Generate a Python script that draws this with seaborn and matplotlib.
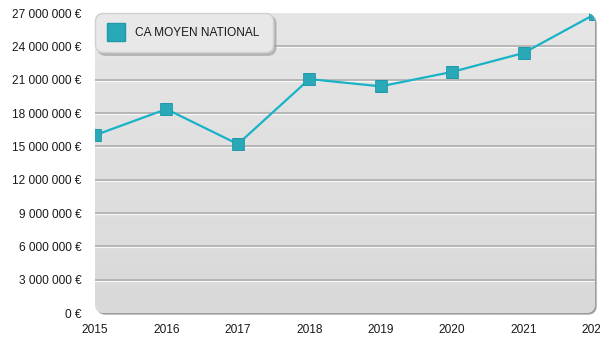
import numpy as np
import pandas as pd
import matplotlib
matplotlib.use("Agg")
import matplotlib.pyplot as plt
import matplotlib.transforms as mtransforms
from matplotlib.patches import FancyBboxPatch
from matplotlib.colors import LinearSegmentedColormap
from matplotlib.lines import Line2D
import seaborn as sns

# Average national turnover per year
years = [2015, 2016, 2017, 2018, 2019, 2020, 2021, 2022]
ca_moyen = [16_000_000, 18_350_000, 15_200_000, 21_050_000, 20_400_000,
            21_700_000, 23_400_000, 26_900_000]
series_name = "CA MOYEN NATIONAL"
y_ticks = [0, 3_000_000, 6_000_000, 9_000_000, 12_000_000, 15_000_000,
           18_000_000, 21_000_000, 24_000_000, 27_000_000]

df = pd.DataFrame({"annee": years, "ca": ca_moyen})

sns.set_theme(style="white")
plt.rcParams["font.family"] = ["Liberation Sans", "DejaVu Sans"]

fig = plt.figure(figsize=(6, 3.5), dpi=100)
ax = fig.add_axes([95 / 600, 37 / 350, 500 / 600, 300 / 350])
ax.set_facecolor("none")
for s in ax.spines.values():
    s.set_visible(False)

ax.set_xlim(years[0], years[-1])
ax.set_ylim(0, 27_000_000)

# rounded plot-area panel with a soft drop shadow
aspect = 500 / 300
shadow_off = mtransforms.ScaledTranslation(1.2 / 72, -1.2 / 72, fig.dpi_scale_trans)
shadow = FancyBboxPatch((0, 0), 1, 1, boxstyle="round,pad=0,rounding_size=0.018",
                        mutation_aspect=aspect, transform=ax.transAxes + shadow_off,
                        facecolor="#9e9e9e", edgecolor="none", zorder=0, clip_on=False)
ax.add_patch(shadow)
panel = FancyBboxPatch((0, 0), 1, 1, boxstyle="round,pad=0,rounding_size=0.018",
                       mutation_aspect=aspect, transform=ax.transAxes,
                       facecolor="#e0e0e0", edgecolor="none", zorder=0.5, clip_on=False)
ax.add_patch(panel)

grad_cmap = LinearSegmentedColormap.from_list("bg", ["#d9d9d9", "#e6e6e6"])
grad = np.linspace(0, 1, 256).reshape(-1, 1)
bg = ax.imshow(grad, extent=[years[0], years[-1], 0, 27_000_000], origin="lower",
               aspect="auto", cmap=grad_cmap, zorder=0.6, interpolation="bilinear")
bg.set_clip_path(panel)

# gridlines: grey rule with a white highlight underneath
white_off = mtransforms.ScaledTranslation(0, -1 / 72 * 0.75, fig.dpi_scale_trans)
for yv in y_ticks[1:-1]:
    ax.axhline(yv, color="#aaaaaa", lw=1.1, zorder=1)
    hl = ax.axhline(yv, color="#f8f8f8", lw=0.9, zorder=0.9)
    hl.set_transform(hl.get_transform() + white_off)

line_color = "#18b3c6"
sns.lineplot(data=df, x="annee", y="ca", ax=ax, color=line_color, lw=1.6,
             marker="s", markersize=8.6, markerfacecolor="#29a9b8",
             markeredgecolor="#2299a9", markeredgewidth=0.6, zorder=3,
             label=series_name, legend=False)
for ln in ax.lines[-1:]:
    ln.set_clip_path(panel)

ax.set_xticks(years)
ax.set_xticklabels([str(y) for y in years])
ax.set_yticks(y_ticks)
ax.set_yticklabels([f"{v:,}".replace(",", " ") + " €" for v in y_ticks])
ax.tick_params(axis="both", length=0, labelsize=8.6, labelcolor="#1a1a1a")
ax.tick_params(axis="y", pad=9.5)
ax.tick_params(axis="x", pad=8)
ax.set_xlabel("")
ax.set_ylabel("")

handle = Line2D([], [], linestyle="none", marker="s", markersize=13.5,
                markerfacecolor="#29a9b8", markeredgecolor="#2299a9")
leg = ax.legend([handle], [series_name], loc="upper left", bbox_to_anchor=(0, 1),
                borderaxespad=0, frameon=True, fancybox=True,
                shadow={"color": "#9a9a9a", "alpha": 0.55},
                fontsize=8.6, handlelength=1.2, handletextpad=1.0,
                borderpad=1.15, labelcolor="#1a1a1a")
frame = leg.get_frame()
frame.set_boxstyle("round", pad=0, rounding_size=0.7)
frame.set_facecolor("#e8e8e8")
frame.set_edgecolor("#d0d0d0")
frame.set_alpha(1)
leg.set_zorder(5)

fig.savefig("out.png", dpi=100, facecolor="white")
